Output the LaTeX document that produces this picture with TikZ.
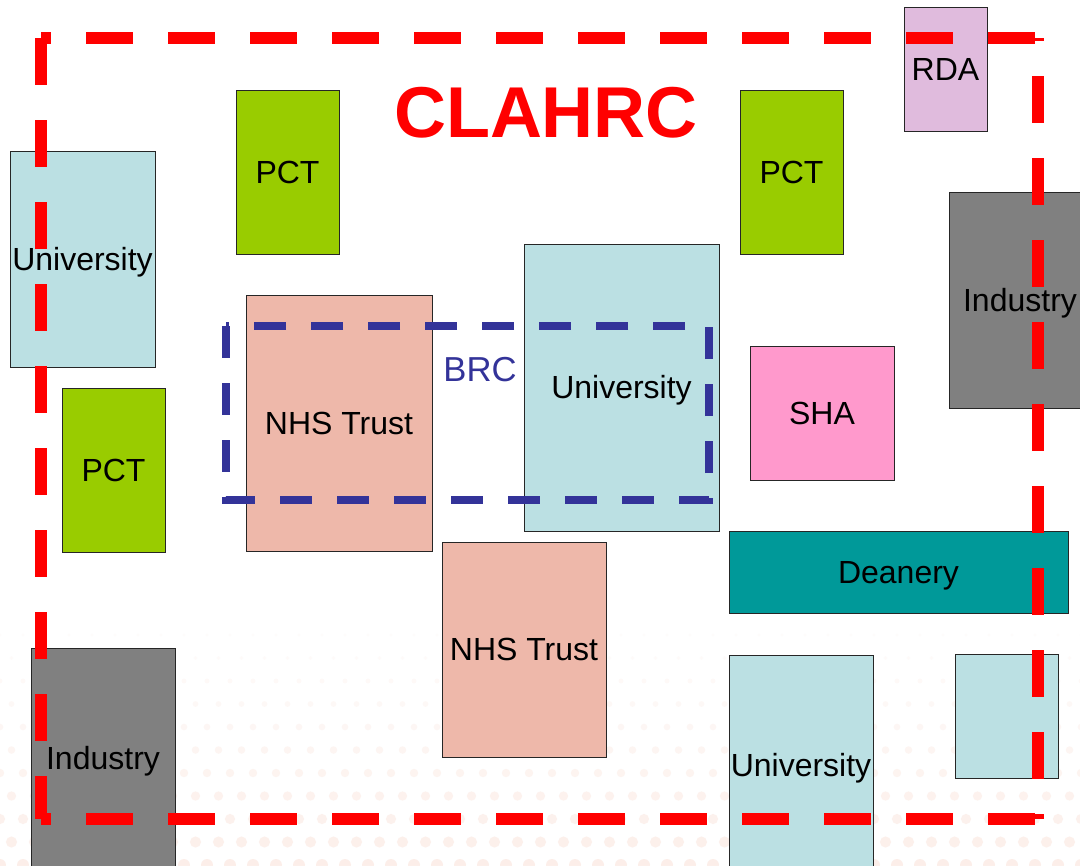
\documentclass[tikz,border=0pt]{standalone}
\usepackage{fontspec}
\setmainfont{Liberation Sans}
\definecolor{univ}{HTML}{BBE0E3}
\definecolor{pct}{HTML}{99CC00}
\definecolor{nhs}{HTML}{EEB8AA}
\definecolor{ind}{HTML}{808080}
\definecolor{sha}{HTML}{FF99CC}
\definecolor{dean}{HTML}{009999}
\definecolor{rda}{HTML}{E0BBDD}
\definecolor{clred}{HTML}{FF0000}
\definecolor{brcblue}{HTML}{333399}
\definecolor{dotc}{HTML}{F0A080}
\tikzset{
  box/.style={draw=black!85,line width=0.75pt,inner sep=0pt,font=\fontsize{24}{28}\selectfont,text height=17.2pt,text depth=0pt},
  clahrcline/.style={draw=clred,line width=9pt,dash pattern=on 35.25pt off 26.25pt},
  brcline/.style={draw=brcblue,line width=6pt,dash pattern=on 24pt off 18.75pt},
}
\begin{document}
\begin{tikzpicture}[x=0.75pt,y=-0.75pt]
\useasboundingbox[fill=white] (0,0) rectangle (1080,865);
% faint background dots
\foreach \r in {0,...,10}{
  \foreach \c in {0,...,47}{
    \fill[dotc,opacity={0.03+0.014*\r}] ({\c*23+mod(\r,2)*11.5},{635+\r*23}) circle ({(1.5+0.45*\r)*0.75pt});
  }
}
% boxes
\node[box,fill=univ,minimum width=108.75pt,minimum height=162pt] (univA) at (82.5,259) {University};
\node[box,fill=pct,minimum width=77.25pt,minimum height=123pt] (pctA) at (287.5,172) {PCT};
\node[box,fill=pct,minimum width=77.25pt,minimum height=123pt] (pctB) at (791.5,172) {PCT};
\node[box,fill=rda,minimum width=62.25pt,minimum height=93pt] (rda) at (945.5,69) {RDA};
\node[box,fill=ind,minimum width=106.5pt,minimum height=162pt] (indA) at (1020,300) {Industry};
\node[box,fill=univ,minimum width=146.25pt,minimum height=215.25pt] (univB) at (621.5,387.5) {University};
\node[box,fill=nhs,minimum width=139.5pt,minimum height=192pt] (nhsA) at (339,423) {NHS Trust};
\node[box,fill=pct,minimum width=77.25pt,minimum height=123pt] (pctC) at (113.5,470) {PCT};
\node[box,fill=sha,minimum width=108pt,minimum height=100.5pt] (sha) at (822,413) {SHA};
\node[box,fill=dean,minimum width=254.25pt,minimum height=61.5pt] (dean) at (898.5,572) {Deanery};
\node[box,fill=nhs,minimum width=123pt,minimum height=161.25pt] (nhsB) at (524,649.5) {NHS Trust};
\node[box,fill=univ,minimum width=108pt,minimum height=165pt] (univC) at (801,765) {University};
\node[box,fill=univ,minimum width=77.25pt,minimum height=93pt] (univD) at (1006.5,716) {};
\node[box,fill=ind,minimum width=108pt,minimum height=165pt] (indB) at (103,758) {Industry};
% CLAHRC boundary
\coordinate (rtl) at (41,38);
\coordinate (rtr) at (1038,38);
\coordinate (rbl) at (41,819);
\coordinate (rbr) at (1038,819);
\draw[clahrcline,dash phase=27.75pt] (rtl) -- (rtr);
\draw[clahrcline] (rtl) -- (rbl);
\draw[clahrcline,dash phase=33pt] (rtr) -- (rbr);
\draw[clahrcline,dash phase=27.75pt] (rbl) -- (rbr);
\node[text=clred,inner sep=0pt,font=\bfseries\fontsize{54}{60}\selectfont] (clahrc) at (546,113) {CLAHRC};
% BRC boundary
\coordinate (btl) at (226,326);
\coordinate (bbr) at (709,500);
\draw[brcline] (btl) rectangle (bbr);
\node[text=brcblue,inner sep=0pt,font=\fontsize{26}{30}\selectfont] (brc) at (480,370) {BRC};
\end{tikzpicture}
\end{document}
